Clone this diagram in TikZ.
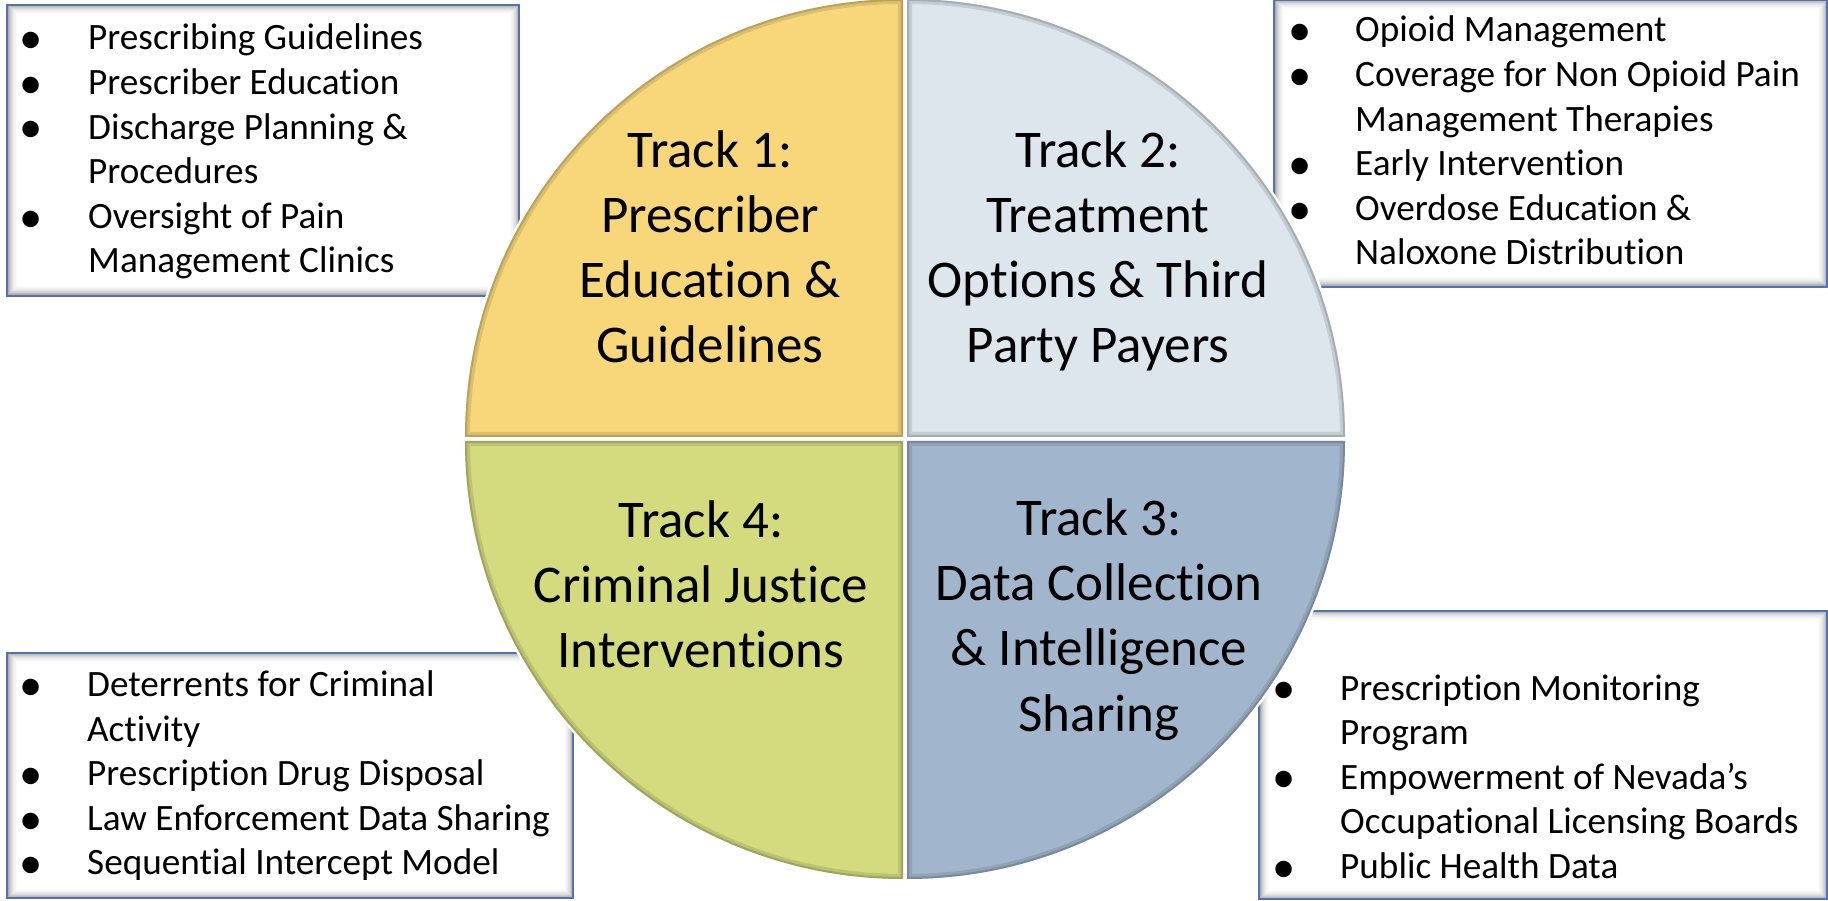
\documentclass[tikz,border=0pt]{standalone}
\usepackage{fontspec}
\setmainfont{Carlito}[Ligatures=NoCommon]
\usetikzlibrary{positioning}

\definecolor{trackgold}{HTML}{F8D77A}
\definecolor{trackmist}{HTML}{DCE6EC}
\definecolor{trackolive}{HTML}{D4DA7E}
\definecolor{tracksteel}{HTML}{A1B6CD}
\definecolor{frameblue}{HTML}{5472B0}

% box with inner shadow: x1 y1 x2 y2
\newcommand{\listframe}[4]{%
	\fill[white] (#1,#2) rectangle (#3,#4);
	\foreach \i/\o in {1/0.32,2/0.26,3/0.20,4/0.15,5/0.11,6/0.08,7/0.05,8/0.03,9/0.015}
		\draw[black,opacity=\o,line width=1pt] (#1+\i,#2+\i) rectangle (#3-\i,#4-\i);
	\draw[frameblue,line width=1.5pt] (#1,#2) rectangle (#3,#4);
}
\newcommand{\listdot}{\makebox[12pt][c]{\raisebox{-0.1em}{\scalebox{1.25}{•}}}}

\begin{document}
\begin{tikzpicture}[x=1pt,y=1pt,
		track/.style={anchor=base,align=center,inner sep=0pt,font=\fontsize{53}{65}\selectfont},
		listtext/.style={anchor=base west,inner sep=0pt,font=\fontsize{37.2}{44.6}\selectfont},
		halo/.style={white,line width=5pt}]
	
	\useasboundingbox (0,0) rectangle (1828,900);
	\fill[white] (0,0) rectangle (1828,900);
	
	% list boxes
	\listframe{7}{604}{519}{895}
	\listframe{1274}{613}{1827}{900}
	\listframe{7}{2}{573}{247}
	\listframe{1259}{1}{1827}{289}
	
	% quarters of the circle
	\foreach \cx/\cy/\a in {903/463/90, 907/463/0, 907/459/-90, 903/459/180}
		\draw[halo] (\cx,\cy) -- ++(\a:438) arc (\a:\a+90:438) -- cycle;
	
	\foreach \cx/\cy/\a/\c in {903/463/90/trackgold, 907/463/0/trackmist, 907/459/-90/tracksteel, 903/459/180/trackolive}{
		\fill[\c] (\cx,\cy) -- ++(\a:438) arc (\a:\a+90:438) -- cycle;
		\begin{scope}
			\clip (\cx,\cy) -- ++(\a:438) arc (\a:\a+90:438) -- cycle;
			\draw[\c!45!black,opacity=0.2,line width=10pt] (\cx,\cy) -- ++(\a:438) arc (\a:\a+90:438) -- cycle;
			\draw[\c!45!black,opacity=0.3,line width=4pt] (\cx,\cy) -- ++(\a:438) arc (\a:\a+90:438) -- cycle;
		\end{scope}
	}
	
	% track titles (anchored at the last line)
	\node (track1) at (710,537) [track] {Track 1:\\Prescriber\\Education \&\\Guidelines};
	\node (track2) at (1098,537) [track] {Track 2:\\Treatment\\Options \& Third\\Party Payers};
	\node (track3) at (1099,169) [track] {Track 3:\\Data Collection\\\& Intelligence\\Sharing};
	\node (track4) at (701,232) [track] {Track 4:\\Criminal Justice\\Interventions};
	
	% bullet lists
	\node (list1) at (25,850) [listtext] {\begin{tabular}[t]{@{}p{63pt}@{}l@{}}
			\listdot & Prescribing Guidelines\\
			\listdot & Prescriber Education\\
			\listdot & Discharge Planning \&\\
			  & Procedures\\
			\listdot & Oversight of Pain\\
			  & Management Clinics
		\end{tabular}};
	\node (list2) at (1294,858) [listtext] {\begin{tabular}[t]{@{}p{61pt}@{}l@{}}
			\listdot & Opioid Management\\
			\listdot & Coverage for Non Opioid Pain\\
			  & Management Therapies\\
			\listdot & Early Intervention\\
			\listdot & Overdose Education \&\\
			  & Naloxone Distribution
		\end{tabular}};
	\node (list3) at (25,203.5) [listtext] {\begin{tabular}[t]{@{}p{62pt}@{}l@{}}
			\listdot & Deterrents for Criminal\\
			  & Activity\\
			\listdot & Prescription Drug Disposal\\
			\listdot & Law Enforcement Data Sharing\\
			\listdot & Sequential Intercept Model
		\end{tabular}};
	\node (list4) at (1278,200) [listtext] {\begin{tabular}[t]{@{}p{62pt}@{}l@{}}
			\listdot & Prescription Monitoring\\
			  & Program\\
			\listdot & Empowerment of Nevada’s\\
			  & Occupational Licensing Boards\\
			\listdot & Public Health Data
		\end{tabular}};
	
\end{tikzpicture}
\end{document}
